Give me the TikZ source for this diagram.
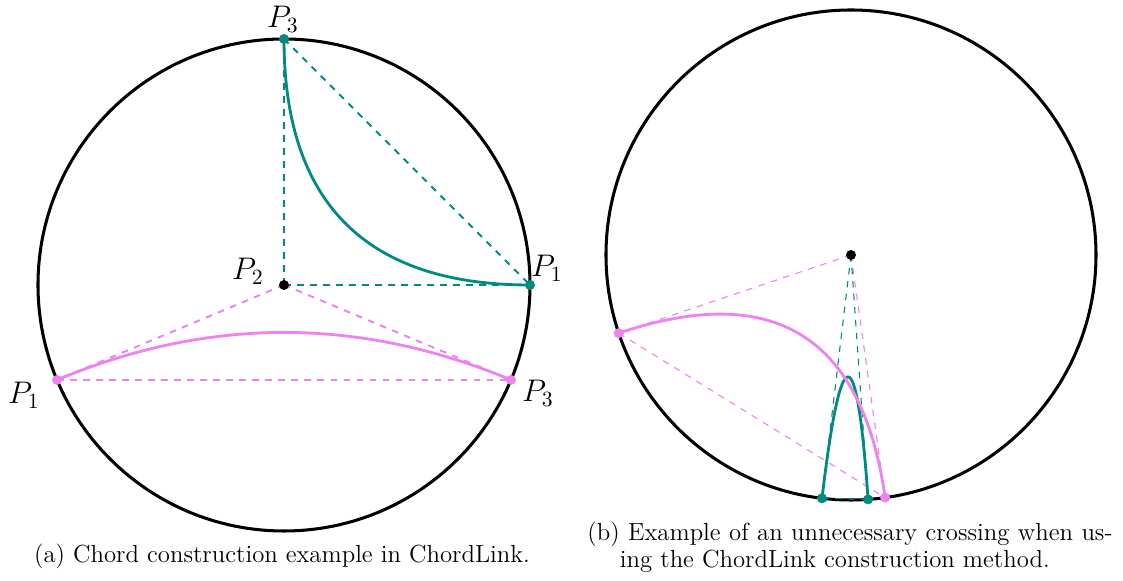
\documentclass[tikz,border=0pt]{standalone}
\usetikzlibrary{calc}
\definecolor{chordteal}{RGB}{0,138,128}
\definecolor{chordpink}{RGB}{238,130,238}
\tikzset{
  dot/.style={circle, fill=#1, inner sep=0pt, minimum size=4.6pt},
  guide/.style={#1, dashed, line width=0.9pt},
  thinguide/.style={#1, dashed, line width=0.5pt},
  link/.style={#1, line width=1.3pt},
  rim/.style={black, line width=1.4pt},
  lbl/.style={inner sep=0pt, font=\fontsize{14}{16}\selectfont},
  captxt/.style={inner sep=0pt, font=\fontsize{11.4}{12}\selectfont},
}
\begin{document}
\begin{tikzpicture}[x=0.4608pt, y=0.4608pt]
  \useasboundingbox (0,0) rectangle (1123,-581);

  % left: chord construction
  \coordinate (lc) at (284,-285);
  \coordinate (lp3) at ($(lc)+(90:246)$);
  \coordinate (lp1) at ($(lc)+(0:246)$);
  \coordinate (lq1) at ($(lc)+(202.7:246)$);
  \coordinate (lq3) at ($(lc)+(-22.7:246)$);
  \draw [rim] (lc) circle [radius=246];

  \draw [guide=chordteal] (lc) -- (lp3);
  \draw [guide=chordteal] (lc) -- (lp1);
  \draw [guide=chordteal] (lp3) -- (lp1);
  \draw [guide=chordpink] (lc) -- (lq1);
  \draw [guide=chordpink] (lc) -- (lq3);
  \draw [guide=chordpink] (lq1) -- (lq3);

  \draw [link=chordteal] (lp3) .. controls ($(lp3)!0.6667!(lc)$) and ($(lp1)!0.6667!(lc)$) .. (lp1);
  \draw [link=chordpink] (lq1) .. controls ($(lq1)!0.6667!(lc)$) and ($(lq3)!0.6667!(lc)$) .. (lq3);

  \node (lp3dot) [dot=chordteal] at (lp3) {};
  \node (lp1dot) [dot=chordteal] at (lp1) {};
  \node (lcdot) [dot=black] at (lc) {};
  \node (lq1dot) [dot=chordpink] at (lq1) {};
  \node (lq3dot) [dot=chordpink] at (lq3) {};

  \node (lp3lbl) [lbl] at (283,-19) {$P_3$};
  \node (lp1lbl) [lbl] at (547,-268) {$P_1$};
  \node (lp2lbl) [lbl] at (248,-271) {$P_2$};
  \node (lq1lbl) [lbl] at (24,-395) {$P_1$};
  \node (lq3lbl) [lbl] at (538,-393) {$P_3$};

  % right: unnecessary crossing
  \coordinate (rc) at (851,-255);
  \coordinate (rq1) at ($(rc)+(198.6:245)$);
  \coordinate (rq3) at ($(rc)+(-82:245)$);
  \coordinate (rp1) at ($(rc)+(-96.8:245)$);
  \coordinate (rp3) at ($(rc)+(-86:245)$);
  \draw [rim] (rc) circle [radius=245];

  \draw [thinguide=chordpink] (rc) -- (rq1);
  \draw [thinguide=chordpink] (rc) -- (rq3);
  \draw [thinguide=chordpink] (rq1) -- (rq3);
  \draw [thinguide=chordteal] (rc) -- (rp1);
  \draw [thinguide=chordteal] (rc) -- (rp3);
  \draw [thinguide=chordteal] (rp1) -- (rp3);

  \draw [link=chordteal] (rp1) .. controls ($(rp1)!0.6667!(rc)$) and ($(rp3)!0.6667!(rc)$) .. (rp3);
  \draw [link=chordpink] (rq1) .. controls ($(rq1)!0.6667!(rc)$) and ($(rq3)!0.6667!(rc)$) .. (rq3);

  \node (rcdot) [dot=black] at (rc) {};
  \node (rq1dot) [dot=chordpink] at (rq1) {};
  \node (rq3dot) [dot=chordpink] at (rq3) {};
  \node (rp1dot) [dot=chordteal] at (rp1) {};
  \node (rp3dot) [dot=chordteal] at (rp3) {};

  % captions
  \node (capa) [captxt, anchor=base] at (282,-563) {(a) Chord construction example in ChordLink.};
  \node (capb) [captxt, anchor=north west, text width=242pt, align=justify] at (587,-522)
  {\hangindent=15pt\hangafter=1 (b) Example of an unnecessary crossing when us-\linebreak ing the ChordLink construction method.\par};
\end{tikzpicture}
\end{document}
